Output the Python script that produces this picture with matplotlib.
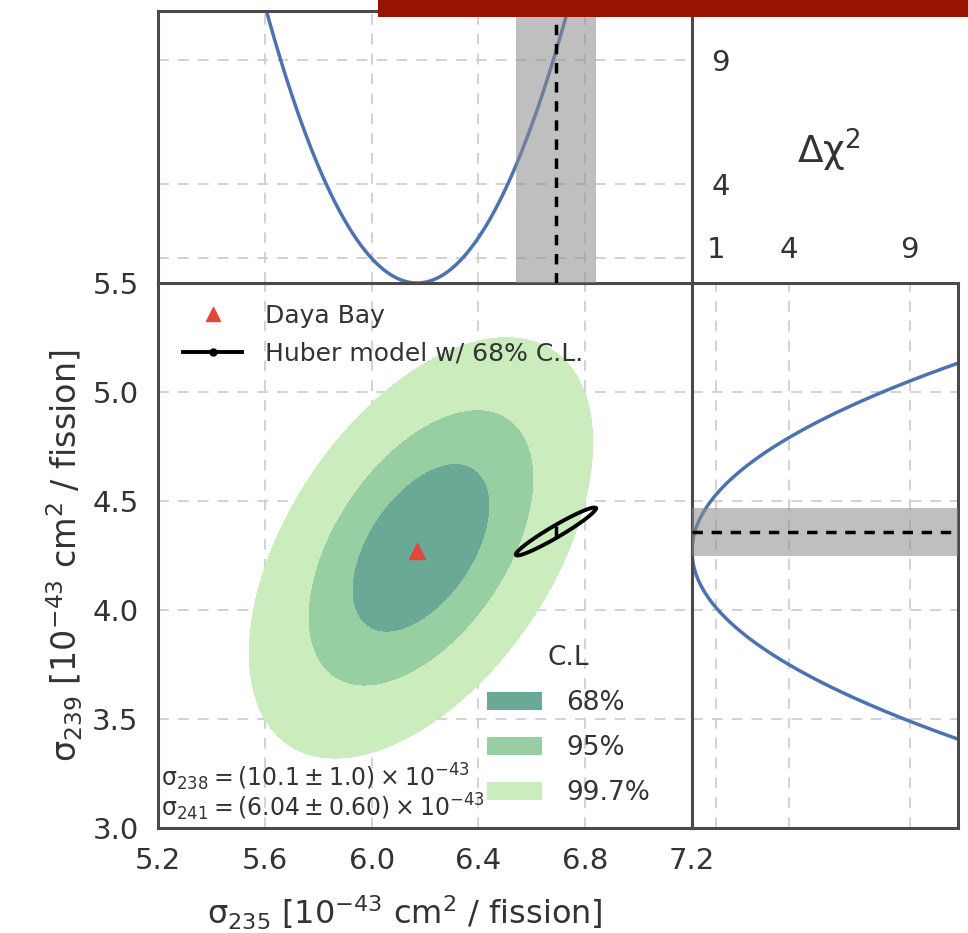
import numpy as np
import matplotlib
matplotlib.use('Agg')
import matplotlib.pyplot as plt
from matplotlib.lines import Line2D
from matplotlib.patches import Patch, Rectangle

# Daya Bay fit, units of 1e-43 cm^2 / fission
DB_235 = 6.17
DB_239 = 4.27
DB_ERR_235 = 0.17
DB_ERR_239 = 0.26

# 2D allowed region
CONT_CENTER = [6.185, 4.285]
CONT_SIGMA = [0.17, 0.255]
CONT_RHO = 0.50
CL_LEVELS = [2.30, 6.18, 14.3]
CL_LABELS = ['68%', '95%', '99.7%']
CL_COLORS = ['#6aa995', '#97cfa2', '#cbecbc']

# Huber model prediction
HUBER_235 = 6.69
HUBER_239 = 4.36
HUBER_ERR_235 = 0.15
HUBER_ERR_239 = 0.11
HUBER_RHO = 0.96

OTHER_ISOTOPES = [r'σ$_{238} = (10.1 \pm 1.0) \times 10^{-43}$',
                  r'σ$_{241} = (6.04 \pm 0.60) \times 10^{-43}$']

X_TICKS = [5.2, 5.6, 6.0, 6.4, 6.8, 7.2]
Y_TICKS = [3.0, 3.5, 4.0, 4.5, 5.0, 5.5]
CHI2_TICKS = [1, 4, 9]
CHI2_LABELS = ['', '4', '9']

BLUE = '#4c72b0'
SPINE = '#4a4a4a'
TXT = '#333333'
TICK_FS = 21

plt.rcParams['font.family'] = ['DejaVu Sans']
plt.rcParams['mathtext.fontset'] = 'dejavusans'

fig = plt.figure(figsize=(9.68, 9.33), dpi=100)
W, H = 968.0, 933.0

def box(l, t, r, b):
    return [l / W, 1 - b / H, (r - l) / W, (b - t) / H]

ax = fig.add_axes(box(158, 283, 692, 828))
ax_top = fig.add_axes(box(158, 11, 692, 283))
ax_right = fig.add_axes(box(692, 283, 958, 828))

for a in (ax, ax_top, ax_right):
    for s in a.spines.values():
        s.set_color(SPINE)
        s.set_linewidth(2.2)
    a.grid(True, color='#cfcfcf', ls=(0, (6, 5)), lw=1.3)
    a.set_axisbelow(True)
    a.tick_params(length=0, labelsize=TICK_FS, labelcolor=TXT)

# main panel: filled confidence regions
gx = np.linspace(5.2, 7.2, 400)
gy = np.linspace(3.0, 5.5, 400)
XX, YY = np.meshgrid(gx, gy)
dx = (XX - CONT_CENTER[0]) / CONT_SIGMA[0]
dy = (YY - CONT_CENTER[1]) / CONT_SIGMA[1]
chi2 = (dx**2 - 2 * CONT_RHO * dx * dy + dy**2) / (1 - CONT_RHO**2)
ax.contourf(XX, YY, chi2, levels=[0] + CL_LEVELS, colors=CL_COLORS, zorder=1)

ax.plot([DB_235], [DB_239], '^', color='#e0483a', ms=11, zorder=4)

t = np.linspace(0, 2 * np.pi, 300)
hx = HUBER_235 + HUBER_ERR_235 * np.cos(t)
hy = HUBER_239 + HUBER_ERR_239 * (HUBER_RHO * np.cos(t) + np.sqrt(1 - HUBER_RHO**2) * np.sin(t))
ax.plot(hx, hy, color='k', lw=2.8, zorder=3)
ax.plot([HUBER_235], [HUBER_239], '|', color='k', ms=9, mew=2.5, zorder=3)

ax.set_xlim(5.2, 7.2)
ax.set_ylim(3.0, 5.5)
ax.set_xticks(X_TICKS)
ax.set_yticks(Y_TICKS)
ax.set_xticklabels(['%.1f' % v for v in X_TICKS])
ax.set_yticklabels(['%.1f' % v for v in Y_TICKS])
ax.tick_params(axis='x', pad=14)
ax.tick_params(axis='y', pad=14)
ax.set_xlabel(r'σ$_{235}$ [10$^{-43}$ cm$^2$ / fission]', fontsize=23, color=TXT)
ax.xaxis.set_label_coords(0.463, -0.121)
ax.set_ylabel(r'σ$_{239}$ [10$^{-43}$ cm$^2$ / fission]', fontsize=24, color=TXT, labelpad=5)

handles = [Line2D([], [], ls='none', marker='^', color='#e0483a', ms=10),
           Line2D([], [], color='k', lw=2.8, marker='o', ms=5)]
leg1 = ax.legend(handles, ['Daya Bay', 'Huber model w/ 68% C.L.'], loc='upper left',
                 bbox_to_anchor=(0.047, 0.962), frameon=False, fontsize=18,
                 handlelength=2.36, handletextpad=0.9, labelspacing=0.55,
                 borderpad=0, borderaxespad=0)
for tx in leg1.get_texts():
    tx.set_color(TXT)
ax.add_artist(leg1)

patches = [Patch(facecolor=c, edgecolor='none') for c in CL_COLORS]
leg2 = ax.legend(patches, CL_LABELS, title='C.L', loc='lower left',
                 bbox_to_anchor=(0.616, 0.04), frameon=False, fontsize=19,
                 title_fontsize=19, handlelength=2.1, handletextpad=0.9,
                 labelspacing=0.72, borderpad=0, borderaxespad=0)
for tx in leg2.get_texts():
    tx.set_color(TXT)
leg2.get_title().set_color(TXT)

ax.text(0.006, 0.01, '\n'.join(OTHER_ISOTOPES), transform=ax.transAxes,
        fontsize=17, color=TXT, ha='left', va='bottom', linespacing=0.92)

# top panel: delta chi2 profile for sigma_235
px = np.linspace(5.2, 7.2, 500)
ax_top.plot(px, ((px - DB_235) / DB_ERR_235)**2, color=BLUE, lw=2.5, zorder=2)
ax_top.axvspan(HUBER_235 - HUBER_ERR_235, HUBER_235 + HUBER_ERR_235,
               color='#8c8c8c', alpha=0.55, lw=0, zorder=3)
ax_top.axvline(HUBER_235, color='k', ls=(0, (3, 2.5)), lw=2.5, zorder=4)
ax_top.set_xlim(5.2, 7.2)
ax_top.set_ylim(0, 11)
ax_top.set_xticks(X_TICKS)
ax_top.set_xticklabels([])
ax_top.set_yticks(CHI2_TICKS)
ax_top.set_yticklabels(CHI2_LABELS)
ax_top.tick_params(axis='y', left=False, labelleft=False, labelright=True, pad=14)

# right panel: delta chi2 profile for sigma_239
py = np.linspace(3.0, 5.5, 500)
ax_right.plot(((py - DB_239) / DB_ERR_239)**2, py, color=BLUE, lw=2.5, zorder=2)
ax_right.axhspan(HUBER_239 - HUBER_ERR_239, HUBER_239 + HUBER_ERR_239,
                 color='#8c8c8c', alpha=0.55, lw=0, zorder=3)
ax_right.axhline(HUBER_239, color='k', ls=(0, (3, 2.5)), lw=2.5, zorder=4)
ax_right.set_xlim(0, 11)
ax_right.set_ylim(3.0, 5.5)
ax_right.set_yticks(Y_TICKS)
ax_right.set_yticklabels([])
ax_right.set_xticks(CHI2_TICKS)
ax_right.set_xticklabels([str(v) for v in CHI2_TICKS])
ax_right.tick_params(axis='x', bottom=False, labelbottom=False, labeltop=True, pad=14)

fig.text(829 / W, 1 - 150 / H, 'Δχ$^2$', fontsize=27, color=TXT,
         ha='center', va='center')

# title bar across the top
fig.add_artist(Rectangle((378 / W, 1 - 17 / H), 1 - 378 / W, 17 / H,
                         transform=fig.transFigure, color='#961400', lw=0))

fig.savefig('out.png', dpi=100)
